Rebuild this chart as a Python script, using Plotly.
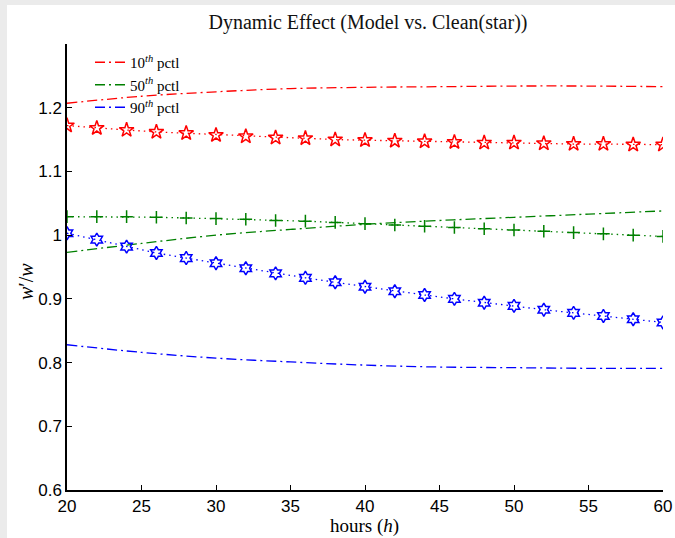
import plotly.graph_objects as go

# ---- data ----
hours_line = [20, 25, 30, 35, 40, 45, 50, 55, 60]
model_p10 = [1.207, 1.218, 1.225, 1.230, 1.232, 1.233, 1.234, 1.234, 1.233]
model_p50 = [0.973, 0.987, 1.000, 1.009, 1.017, 1.023, 1.028, 1.033, 1.038]
model_p90 = [0.828, 0.816, 0.807, 0.801, 0.796, 0.793, 0.792, 0.791, 0.791]

hours_star = [20, 22, 24, 26, 28, 30, 32, 34, 36, 38, 40, 42, 44, 46, 48, 50, 52, 54, 56, 58, 60]
clean_p10 = [1.172, 1.168, 1.165, 1.162, 1.160, 1.157, 1.155, 1.153, 1.152, 1.150, 1.149,
             1.148, 1.147, 1.146, 1.145, 1.145, 1.144, 1.143, 1.143, 1.142, 1.142]
clean_p50 = [1.029, 1.029, 1.029, 1.028, 1.027, 1.026, 1.025, 1.023, 1.022, 1.020, 1.018,
             1.016, 1.014, 1.012, 1.010, 1.008, 1.006, 1.004, 1.002, 1.000, 0.998]
clean_p90 = [1.003, 0.993, 0.982, 0.972, 0.964, 0.956, 0.948, 0.940, 0.933, 0.926, 0.919,
             0.912, 0.906, 0.900, 0.894, 0.889, 0.883, 0.878, 0.873, 0.868, 0.863]

legend_names = ["10<sup><i>th</i></sup> pctl", "50<sup><i>th</i></sup> pctl", "90<sup><i>th</i></sup> pctl"]
x_ticks = [20, 25, 30, 35, 40, 45, 50, 55, 60]
y_ticks = [0.6, 0.7, 0.8, 0.9, 1.0, 1.1, 1.2]
y_tick_text = ["0.6", "0.7", "0.8", "0.9", "1", "1.1", "1.2"]

RED, GREEN, BLUE = "#ff0000", "#008000", "#0000ff"
DASHDOT = "10px,4px,2px,4px"
DOTTED = "1.5px,4px"

fig = go.Figure()

for y, c, n in [(model_p10, RED, legend_names[0]),
                (model_p50, GREEN, legend_names[1]),
                (model_p90, BLUE, legend_names[2])]:
    fig.add_trace(go.Scatter(x=hours_line, y=y, mode="lines", name=n,
                             line=dict(color=c, width=1.3, dash=DASHDOT, shape="spline")))

for y, c, sym, sz in [(clean_p10, RED, "star-open", 11),
                      (clean_p50, GREEN, "cross-thin-open", 9),
                      (clean_p90, BLUE, "hexagram-open", 10)]:
    fig.add_trace(go.Scatter(x=hours_star, y=y, mode="lines+markers", showlegend=False,
                             line=dict(color=c, width=1.3, dash=DOTTED),
                             marker=dict(symbol=sym, size=sz, color=c,
                                         line=dict(color=c, width=1.5))))

L, R, T, B = 67, 12, 44, 48
W, H = 675, 538
pw, ph = W - L - R, H - T - B

def px(x):
    return (x - L) / pw

def py(y):
    return (H - B - y) / ph

shapes = [
    dict(type="rect", xref="paper", yref="paper", x0=px(0), x1=px(7), y0=py(H), y1=py(0),
         fillcolor="#ebebeb", line=dict(width=0), layer="below"),
    dict(type="rect", xref="paper", yref="paper", x0=px(0), x1=px(W), y0=py(5), y1=py(0),
         fillcolor="#ebebeb", line=dict(width=0), layer="below"),
]

SERIF = "Liberation Serif"
annotations = [
    dict(text="hours (<i>h</i>)", xref="paper", yref="paper", x=px(364), y=py(526),
         xanchor="center", yanchor="middle", showarrow=False,
         font=dict(family=SERIF, size=19, color="black")),
    dict(text="<i>w</i>′/<i>w</i>", xref="paper", yref="paper", x=px(26), y=py(282),
         xanchor="center", yanchor="middle", showarrow=False, textangle=-90,
         font=dict(family=SERIF, size=20, color="black")),
]

fig.update_layout(
    width=W, height=H,
    margin=dict(l=L, r=R, t=T, b=B),
    paper_bgcolor="white", plot_bgcolor="white",
    shapes=shapes,
    annotations=annotations,
    title=dict(text="Dynamic Effect (Model vs. Clean(star))", x=368 / W, xanchor="center",
               y=1 - 22 / H, yanchor="middle",
               font=dict(family=SERIF, size=20, color="#111")),
    xaxis=dict(range=[20, 60], tickvals=x_ticks, ticks="inside", ticklen=5, tickwidth=1,
               tickcolor="black", showline=True, linecolor="black", linewidth=1.5,
               showgrid=False, zeroline=False, automargin=False,
               tickfont=dict(family="Liberation Sans", size=17, color="black")),
    yaxis=dict(range=[0.6, 1.3], tickvals=y_ticks, ticktext=y_tick_text, ticks="inside",
               ticklen=5, tickwidth=1, tickcolor="black", showline=True, linecolor="black",
               linewidth=1.5, showgrid=False, zeroline=False, automargin=False,
               tickfont=dict(family="Liberation Sans", size=17, color="black")),
    legend=dict(x=px(90), y=py(46), xanchor="left", yanchor="top",
                bgcolor="rgba(0,0,0,0)", borderwidth=0, tracegroupgap=0,
                font=dict(family=SERIF, size=15, color="black")),
    showlegend=True,
)

fig.write_html("out.html")
